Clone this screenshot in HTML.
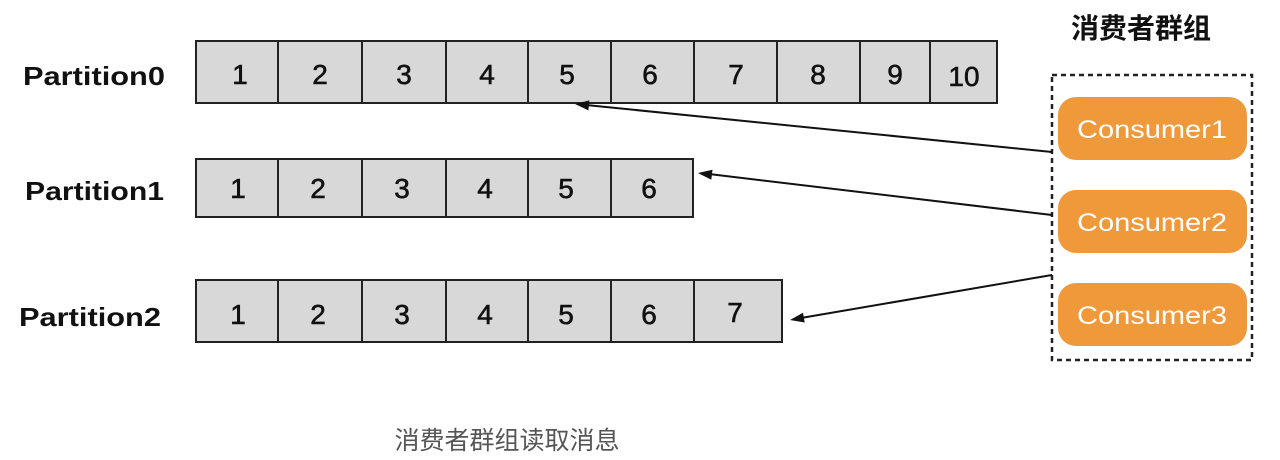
<!DOCTYPE html>
<html><head><meta charset="utf-8"><style>html,body{margin:0;padding:0;background:#fff}svg{display:block}</style></head>
<body>
<svg width="1280" height="460" viewBox="0 0 1280 460" xmlns="http://www.w3.org/2000/svg">
<g font-family="Liberation Sans, Arial, sans-serif" font-weight="bold" fill="#111">
<text x="23" y="85" font-size="26" textLength="142" lengthAdjust="spacingAndGlyphs">Partition0</text>
<text x="25" y="200" font-size="26" textLength="139" lengthAdjust="spacingAndGlyphs">Partition1</text>
<text x="19" y="326" font-size="26" textLength="142" lengthAdjust="spacingAndGlyphs">Partition2</text>
</g>
<g stroke="#222" stroke-width="2" fill="#d8d8d8">
<rect x="196" y="41" width="801" height="62"/>
<rect x="196" y="159" width="497" height="58"/>
<rect x="196" y="280" width="586" height="62"/>
</g>
<g stroke="#222" stroke-width="2">
<path d="M278 41V103M362 41V103M446 41V103M528 41V103M611 41V103M694 41V103M777 41V103M860 41V103M930 41V103"/>
<path d="M278 159V217M362 159V217M446 159V217M528 159V217M611 159V217"/>
<path d="M278 280V342M362 280V342M446 280V342M528 280V342M611 280V342M694 280V342"/>
</g>
<g font-family="Liberation Sans, Arial, sans-serif" font-size="28" fill="#111" text-anchor="middle" stroke="#111" stroke-width="0.6">
<text x="240" y="84">1</text><text x="320" y="84">2</text><text x="404" y="84">3</text><text x="487" y="84">4</text><text x="567" y="84">5</text><text x="650" y="84">6</text><text x="736" y="84">7</text><text x="818" y="84">8</text><text x="895" y="84">9</text><text x="964" y="86">10</text>
<text x="238" y="198">1</text><text x="318" y="198">2</text><text x="402" y="198">3</text><text x="485" y="198">4</text><text x="566" y="198">5</text><text x="649" y="198">6</text>
<text x="238" y="324">1</text><text x="318" y="324">2</text><text x="402" y="324">3</text><text x="485" y="324">4</text><text x="566" y="324">5</text><text x="649" y="324">6</text><text x="735" y="322">7</text>
</g>
<rect x="1052" y="75" width="200" height="285" fill="none" stroke="#222" stroke-width="2.5" stroke-dasharray="5,4"/>
<g fill="#f0993a">
<rect x="1058" y="97" width="189" height="63" rx="18"/>
<rect x="1058" y="190" width="189" height="63" rx="18"/>
<rect x="1058" y="283" width="189" height="63" rx="18"/>
</g>
<g font-family="Liberation Sans, Arial, sans-serif" font-size="25" fill="#fff" text-anchor="middle">
<text x="1152" y="138" textLength="150" lengthAdjust="spacingAndGlyphs">Consumer1</text>
<text x="1152" y="231" textLength="150" lengthAdjust="spacingAndGlyphs">Consumer2</text>
<text x="1152" y="324" textLength="150" lengthAdjust="spacingAndGlyphs">Consumer3</text>
</g>
<g stroke="#111" stroke-width="2" fill="none">
<line x1="1052" y1="152" x2="586" y2="105"/>
<line x1="1052" y1="215" x2="709" y2="174"/>
<line x1="1052" y1="275" x2="801" y2="318"/>
</g>
<g fill="#111">
<polygon points="575,104 589.4,100.4 588.4,110.4"/>
<polygon points="698,173 712.5,169.7 711.3,179.7"/>
<polygon points="790,320 804.7,322.5 803,312.7"/>
</g>
<text x="1141" y="38" font-family="Liberation Sans, Noto Sans CJK SC, sans-serif" font-weight="bold" font-size="28" fill="#111" text-anchor="middle">消费者群组</text>
<text x="507" y="449" font-family="Liberation Sans, Noto Sans CJK SC, sans-serif" font-size="25" fill="#555" text-anchor="middle">消费者群组读取消息</text>
</svg>
</body></html>
